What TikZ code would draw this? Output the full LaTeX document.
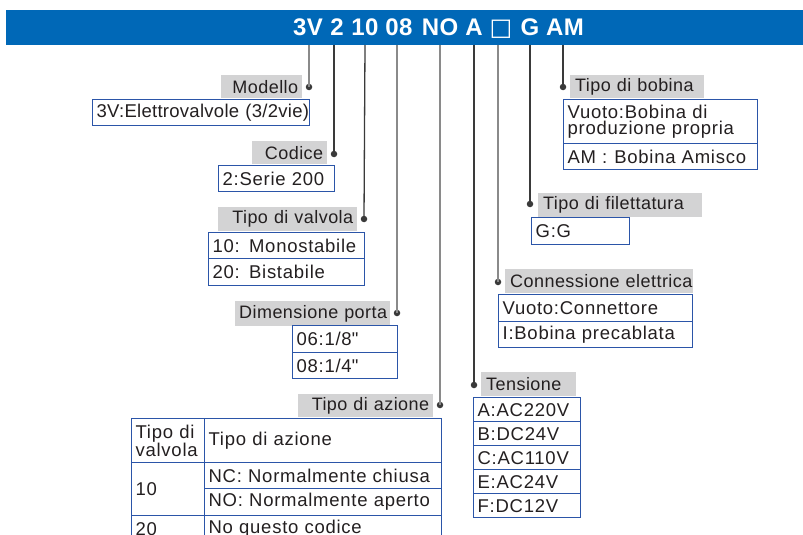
\documentclass[tikz,border=0pt]{standalone}
\usepackage{fontspec}
\setmainfont{Liberation Sans}[LetterSpace=4]
\newfontfamily\tightfont{Liberation Sans}[LetterSpace=1.5]
\newfontfamily\labfont{Liberation Sans}[LetterSpace=2.5]
\newfontfamily\titlefont{Liberation Sans}[LetterSpace=2]
\newfontfamily\symfont{DejaVu Sans}
\definecolor{barblue}{HTML}{0068B7}
\definecolor{lblgray}{HTML}{D3D3D4}
\definecolor{boxblue}{HTML}{2B55A8}
\definecolor{txt}{HTML}{231F20}
\definecolor{lngray}{HTML}{8A8A8A}
\definecolor{lndark}{HTML}{3A3A3A}
\begin{document}
\begin{tikzpicture}[x=1pt,y=-1pt,
  font=\fontsize{18.5}{20}\selectfont, text=txt,
  every node/.style={inner sep=0pt},
  tok/.style={text=white, font=\titlefont\bfseries\fontsize{24}{24}\selectfont, anchor=base},
  labR/.style={fill=lblgray, anchor=north west, inner xsep=4pt, align=right, font=\labfont\fontsize{18}{20}\selectfont},
  labL/.style={fill=lblgray, anchor=north west, inner xsep=5pt, align=left, font=\labfont\fontsize{18}{20}\selectfont},
  cell/.style={draw=boxblue, line width=1.3pt, anchor=north west, inner xsep=4pt, align=left},
  dot/.style={circle, fill=lndark, minimum size=6.5pt},
  gline/.style={draw=lngray, line width=1.3pt},
  dline/.style={draw=lndark, line width=1.3pt}
]
\useasboundingbox (0,0) rectangle (803,535);

% title bar
\node[fill=barblue, minimum width=797pt, minimum height=35pt, anchor=north west] (bar) at (6,10) {};
\node[tok] (k1) at (308,36) {3V};
\node[tok] (k2) at (337,36) {2};
\node[tok] (k3) at (365,36) {10};
\node[tok] (k4) at (399,36) {08};
\node[tok] (k5) at (440,36) {NO};
\node[tok] (k6) at (474,36) {A};
\node[tok, font=\symfont\fontsize{24}{24}\selectfont] (k7) at (501,36) {□};
\node[tok] (k8) at (530,36) {G};
\node[tok] (k9) at (565,36) {AM};

% top ends of connectors
\coordinate (c1) at (309,45);
\coordinate (c2) at (334,45);
\coordinate (c3) at (365,45);
\coordinate (c4) at (397,45);
\coordinate (c5) at (440,45);
\coordinate (c6) at (474,45);
\coordinate (c7) at (498,45);
\coordinate (c8) at (530,45);
\coordinate (c9) at (563,45);

% dots
\node[dot] (d1) at (309,87) {};
\node[dot] (d2) at (334,154) {};
\node[dot] (d3) at (364,219) {};
\node[dot] (d4) at (397,313) {};
\node[dot] (d5) at (440,405) {};
\node[dot] (d6) at (474,385) {};
\node[dot] (d7) at (498,282) {};
\node[dot] (d8) at (530,204) {};
\node[dot] (d9) at (563,87) {};

\draw[gline] (c1) -- (d1.center);
\draw[dline] (c2) -- (d2.center);
\draw[dline] (c3) -- (d3.center);
\draw[gline] (c4) -- (d4.center);
\draw[gline] (c5) -- (d5.center);
\draw[dline] (c6) -- (d6.center);
\draw[gline] (c7) -- (d7.center);
\draw[dline] (c8) -- (d8.center);
\draw[dline] (c9) -- (d9.center);

% Modello
\node[labR, text width=73pt, minimum height=23pt] (l1) at (221,75) {\mbox{Modello}};
\node[cell, text width=209pt, minimum height=26pt, font=\tightfont\fontsize{18.5}{20}\selectfont] (b1) at (92,99) {\mbox{3V:Elettrovalvole (3/2vie)}};

% Codice
\node[labR, text width=67pt, minimum height=23pt] (l2) at (252,141) {\mbox{Codice}};
\node[cell, text width=108pt, minimum height=26pt] (b2) at (218,165) {\mbox{2:Serie 200}};

% Tipo di valvola
\node[labR, text width=131pt, minimum height=24pt] (l3) at (218,207) {\mbox{Tipo di valvola}};
\node[cell, text width=148pt, minimum height=26pt] (b3a) at (208,232) {\mbox{10: Monostabile}};
\node[cell, text width=148pt, minimum height=27pt] (b3b) at (208,258) {\mbox{20: Bistabile}};

% Dimensione porta
\node[labR, text width=147pt, minimum height=25pt] (l4) at (235,301) {\mbox{Dimensione porta}};
\node[cell, text width=97pt, minimum height=27pt] (b4a) at (292,325) {\mbox{06:1/8\textquotedbl}};
\node[cell, text width=97pt, minimum height=26pt] (b4b) at (292,352) {\mbox{08:1/4\textquotedbl}};

% Tipo di azione
\node[labR, text width=127pt, minimum height=23pt] (l5) at (298,394) {\mbox{Tipo di azione}};
\node[cell, text width=65pt, minimum height=44pt, font=\fontsize{18.5}{13}\selectfont] (h1) at (131,418) {\mbox{Tipo di}\\\mbox{valvola}};
\node[cell, text width=229pt, minimum height=44pt] (h2) at (204,418) {\mbox{Tipo di azione}};
\node[cell, text width=65pt, minimum height=53pt] (r1a) at (131,462) {\mbox{10}};
\node[cell, text width=229pt, minimum height=26pt] (r1b) at (204,462) {\mbox{NC: Normalmente chiusa}};
\node[cell, text width=229pt, minimum height=27pt] (r1c) at (204,488) {\mbox{NO: Normalmente aperto}};
\node[cell, text width=65pt, minimum height=26pt] (r2a) at (131,515) {\mbox{20}};
\node[cell, text width=229pt, minimum height=26pt] (r2b) at (204,515) {\mbox{No questo codice}};

% Tipo di bobina
\node[labL, text width=124pt, minimum height=23pt] (l9) at (570,75) {\mbox{Tipo di bobina}};
\node[cell, text width=186pt, minimum height=44pt, font=\fontsize{18.5}{16}\selectfont] (b9a) at (563,99) {\mbox{Vuoto:Bobina di}\\\mbox{produzione propria}};
\node[cell, text width=186pt, minimum height=26pt] (b9b) at (563,143) {\mbox{AM\hspace{6pt}:\hspace{7pt}Bobina Amisco}};

% Tipo di filettatura
\node[labL, text width=154pt, minimum height=24pt] (l8) at (538,193) {\mbox{Tipo di filettatura}};
\node[cell, text width=90pt, minimum height=27pt] (b8) at (531,217) {\mbox{G:G}};

% Connessione elettrica
\node[labL, text width=178pt, minimum height=24pt] (l7) at (505,269) {\mbox{Connessione elettrica}};
\node[cell, text width=186pt, minimum height=27pt] (b7a) at (498,294) {\mbox{Vuoto:Connettore}};
\node[cell, text width=186pt, minimum height=26pt] (b7b) at (498,321) {\mbox{I:Bobina precablata}};

% Tensione
\node[labL, text width=85pt, minimum height=24pt] (l6) at (481,372) {\mbox{Tensione}};
\node[cell, text width=99pt, minimum height=24pt] (b6a) at (473,397) {\mbox{A:AC220V}};
\node[cell, text width=99pt, minimum height=24pt] (b6b) at (473,421) {\mbox{B:DC24V}};
\node[cell, text width=99pt, minimum height=24pt] (b6c) at (473,445) {\mbox{C:AC110V}};
\node[cell, text width=99pt, minimum height=24pt] (b6d) at (473,469) {\mbox{E:AC24V}};
\node[cell, text width=99pt, minimum height=24pt] (b6e) at (473,493) {\mbox{F:DC12V}};
\end{tikzpicture}
\end{document}
